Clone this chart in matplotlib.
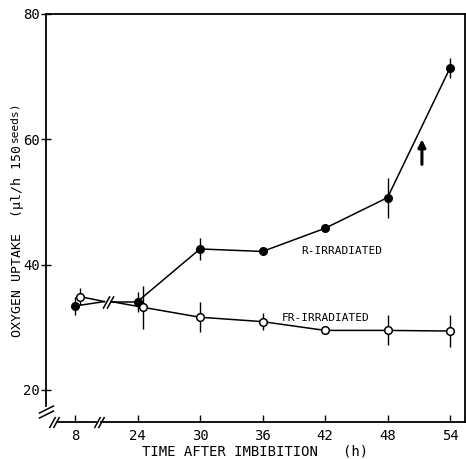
import numpy as np
import matplotlib
matplotlib.use('Agg')
import matplotlib.pyplot as plt

plt.rcParams['font.family'] = ['DejaVu Sans Mono', 'DejaVu Sans']

# 数据
hours = [8, 24, 30, 36, 42, 48, 54]
r_vals = [33.4, 34.1, 42.5, 42.1, 45.8, 50.7, 71.4]
r_err = [1.5, 1.6, 1.7, 0.0, 0.0, 3.2, 1.6]
fr_vals = [34.9, 33.2, 31.6, 30.9, 29.5, 29.5, 29.4]
fr_err = [1.3, 3.4, 2.4, 1.3, 0.0, 2.4, 2.6]
y_ticks = [20, 40, 60, 80]

pos = np.arange(len(hours))      # 8 和 24 之间断轴，所以用等距位置
fr_shift = np.array([0.08, 0.08, 0, 0, 0, 0, 0])   # 空心点稍微右移

fig = plt.figure(figsize=(4.66, 4.59), dpi=100)
ax = fig.add_axes([0.0987, 0.0806, 0.8993, 0.8889])

lw = 1.1
slash = [(-0.55, -1), (0.55, 1)]

# 8 -> 断点 -> 24
xb0, xb1 = 0.47, 0.58
yb = r_vals[1]
for xs, ys in [(pos[0], r_vals[0]), (pos[0] + fr_shift[0], fr_vals[0])]:
    ax.plot([xs, xb0], [ys, yb], color='black', lw=lw, zorder=2)
ax.plot([xb1, pos[1]], [yb, r_vals[1]], color='black', lw=lw, zorder=2)
ax.plot([xb1, pos[1] + fr_shift[1]], [yb, fr_vals[1]], color='black', lw=lw, zorder=2)
ax.plot([xb0 + 0.02, xb1 - 0.02], [yb, yb], ls='none', marker=slash,
        ms=9, mec='black', mew=lw, zorder=3)

# 24 以后
ax.plot(pos[1:], r_vals[1:], color='black', lw=lw, zorder=2)
ax.plot(pos[1:] + fr_shift[1:], fr_vals[1:], color='black', lw=lw, zorder=2)

ax.errorbar(pos, r_vals, yerr=r_err, fmt='o', color='black', ms=5.5,
            elinewidth=1.0, capsize=0, zorder=4)
ax.errorbar(pos + fr_shift, fr_vals, yerr=fr_err, fmt='o', color='black',
            mfc='white', mec='black', mew=1.1, ms=5.5, elinewidth=1.0,
            capsize=0, zorder=4)

# 箭头
ax.annotate('', xy=(5.55, 60.0), xytext=(5.55, 56.0),
            arrowprops=dict(arrowstyle='-|>', lw=2.2, color='black',
                            mutation_scale=11, shrinkA=0, shrinkB=0))

ax.text(3.62, 42.1, 'R-IRRADIATED', fontsize=8, va='center', ha='left')
ax.text(3.30, 31.5, 'FR-IRRADIATED', fontsize=8, va='center', ha='left')

ax.set_xlim(-0.464, 6.24)
ax.set_ylim(14.88, 80)

# 坐标轴
ax.spines['bottom'].set_visible(False)
ax.spines['left'].set_bounds(17.4, 80)
for s in ['top', 'right', 'left']:
    ax.spines[s].set_linewidth(1.3)

trans = ax.get_xaxis_transform()
ax.plot([-0.29, 0.34], [0, 0], color='black', lw=1.3, transform=trans, clip_on=False)
ax.plot([0.42, 6.24], [0, 0], color='black', lw=1.3, transform=trans, clip_on=False)
ax.plot([0.35, 0.41], [0, 0], ls='none', marker=slash, ms=8, mec='black',
        mew=1.1, transform=trans, clip_on=False)
ax.plot([-0.36, -0.30], [0, 0], ls='none', marker=slash, ms=8, mec='black',
        mew=1.1, transform=trans, clip_on=False)
ax.plot([-0.464, -0.464], [16.9, 16.2], ls='none', marker=[(-1, -0.5), (1, 0.5)],
        ms=11, mec='black', mew=1.1, clip_on=False)

ax.set_xticks(pos)
ax.set_xticklabels([str(h) for h in hours], fontsize=10)
ax.set_yticks(y_ticks)
ax.set_yticklabels([str(v) for v in y_ticks], fontsize=10)
ax.tick_params(axis='x', direction='in', length=5, width=1.0, pad=5)
ax.tick_params(axis='y', direction='inout', length=7, width=1.0, pad=1)

ax.set_xlabel('TIME AFTER IMBIBITION   (h)', fontsize=10, labelpad=1)
t1 = fig.text(0.037, 0.266, 'OXYGEN UPTAKE  (μl/h 150', rotation=90,
              fontsize=9.5, ha='center', va='bottom')
ax.annotate('seeds)', xy=(0.0, 1.0), xycoords=t1, xytext=(-1, 2),
            textcoords='offset points', rotation=90, fontsize=8,
            ha='left', va='bottom')

fig.savefig('out.png', dpi=100)
